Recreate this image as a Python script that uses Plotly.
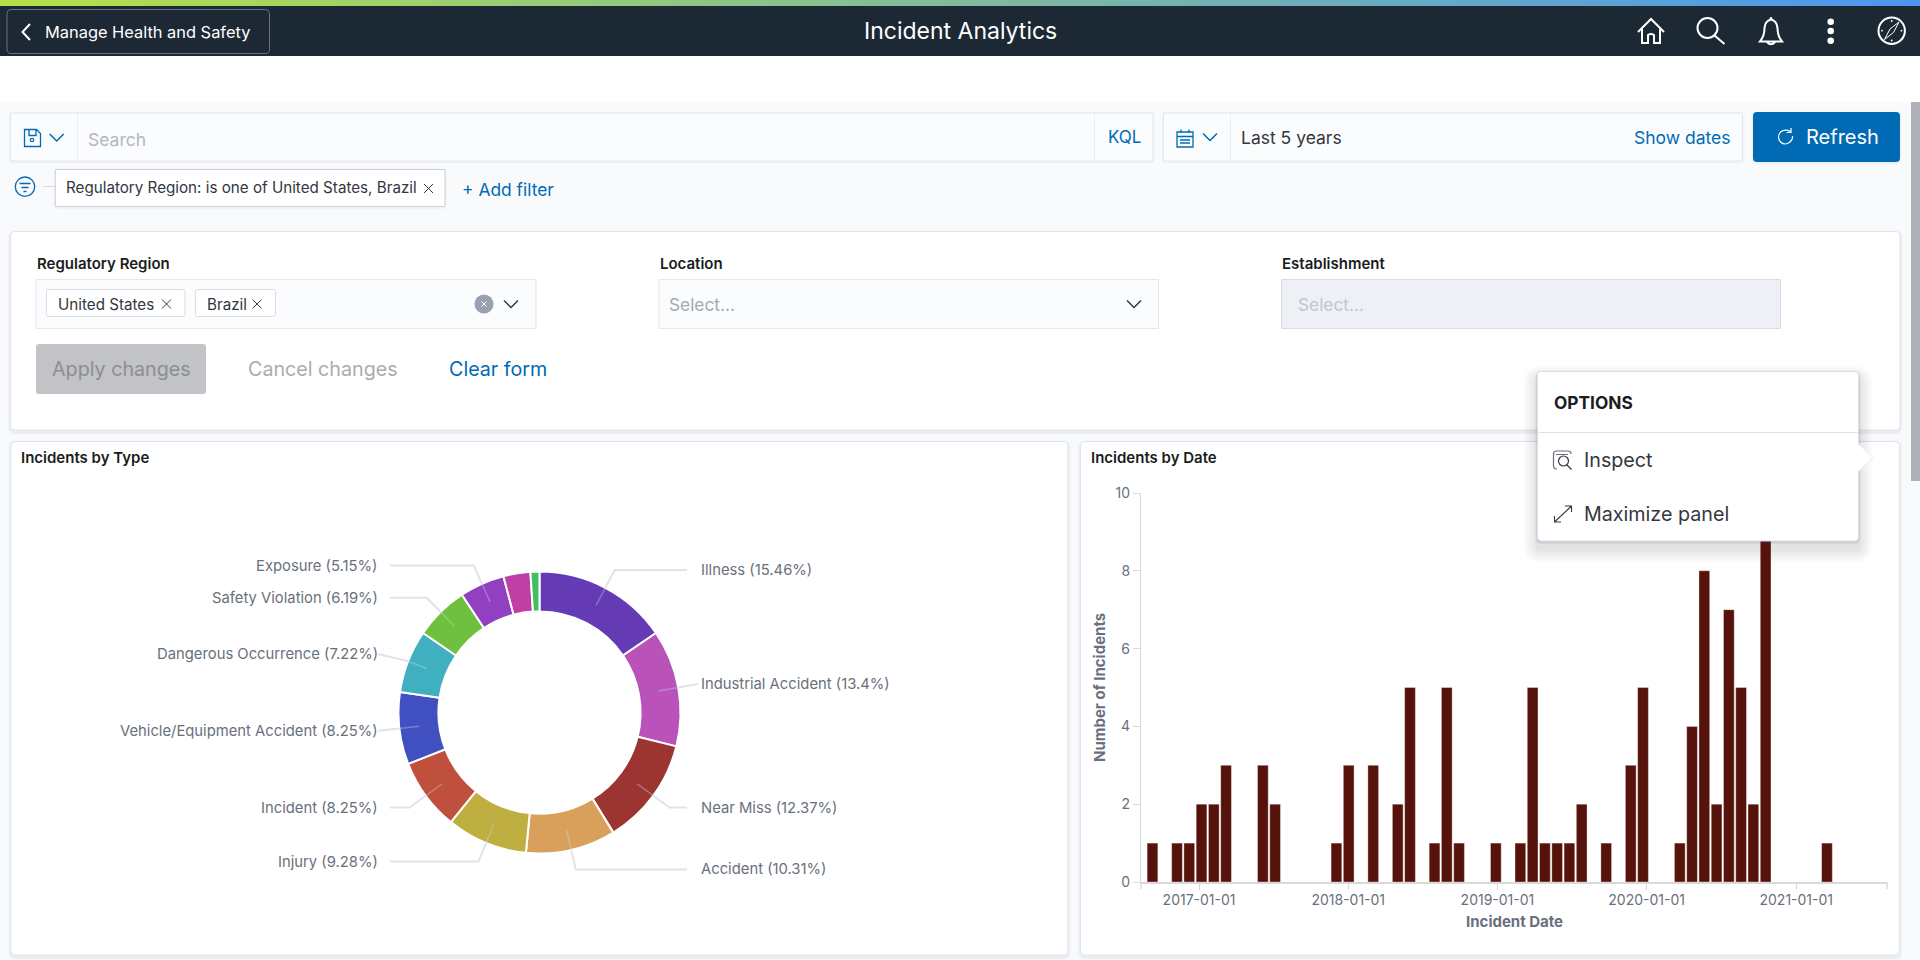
import re
import math
import pandas as pd
import plotly.graph_objects as go

W, H = 1920, 960
FONT = "Inter"
BLUE = "#006bb4"
INK = "#343741"
MUTED = "#69707d"
BORDER = "#dfe3ef"
AXIS = "#d9d9d9"

# incidents by type, clockwise from 12 o'clock (last two slices carry no label in the picture)
type_names = ["Illness", "Industrial Accident", "Near Miss", "Accident", "Injury", "Incident",
              "Vehicle/Equipment Accident", "Dangerous Occurrence", "Safety Violation", "Exposure",
              "Unlabelled 1", "Unlabelled 2"]
type_share = [15.46, 13.4, 12.37, 10.31, 9.28, 8.25, 8.25, 7.22, 6.19, 5.15, 3.09, 1.03]
type_colors = ["#643bb5", "#b953ba", "#9c3432", "#d9a05c", "#bfae40", "#bf503e",
               "#4050c0", "#40afc0", "#70c040", "#9040c0", "#c03fa5", "#40c060"]

# incidents by date: 30 day buckets, numbered from the one starting 2016-12-25
bucket_no = [-4, -2, -1, 0, 1, 2, 5, 6,
             11, 12, 14, 16, 17, 19, 20, 21,
             24, 26, 27, 28, 29, 30, 31, 33,
             35, 36, 39, 40, 41, 42, 43, 44,
             45, 46, 51]
counts = [1, 1, 1, 2, 2, 3, 3, 2,
          1, 3, 3, 2, 5, 1, 5, 1,
          1, 1, 5, 1, 1, 1, 2, 1,
          3, 5, 1, 4, 8, 2, 7, 5,
          2, 10, 1]
date_ticks = ["2017-01-01", "2018-01-01", "2019-01-01", "2020-01-01", "2021-01-01"]
count_ticks = [0, 2, 4, 6, 8, 10]

shapes, annotations = [], []


def X(px):
    return px / W


def Y(py):
    return 1 - py / H


def to_paper(d):
    # path written in page pixels -> paper coordinates
    seen = [0]

    def conv(m):
        v = float(m.group())
        out = X(v) if seen[0] % 2 == 0 else Y(v)
        seen[0] += 1
        return f"{out:.5f}"
    return re.sub(r"-?\d+\.?\d*", conv, d)


def path(d, color=None, width=1.0, fill=None, layer="above", opacity=1):
    shapes.append(dict(type="path", xref="paper", yref="paper", path=to_paper(d), layer=layer, opacity=opacity,
                       fillcolor=fill or "rgba(0,0,0,0)",
                       line=dict(color=color or "rgba(0,0,0,0)", width=width if color else 0)))


def box(x0, y0, x1, y1, fill, color=None, width=1.0, r=0, layer="below", opacity=1):
    d = (f"M{x0 + r} {y0} L{x1 - r} {y0} Q{x1} {y0} {x1} {y0 + r} L{x1} {y1 - r} Q{x1} {y1} {x1 - r} {y1} "
         f"L{x0 + r} {y1} Q{x0} {y1} {x0} {y1 - r} L{x0} {y0 + r} Q{x0} {y0} {x0 + r} {y0} Z")
    path(d, color, width, fill, layer, opacity)


def circle(cx, cy, r, fill=None, color=None, width=1.0, layer="above"):
    shapes.append(dict(type="circle", xref="paper", yref="paper", layer=layer,
                       x0=X(cx - r), x1=X(cx + r), y0=Y(cy + r), y1=Y(cy - r),
                       fillcolor=fill or "rgba(0,0,0,0)",
                       line=dict(color=color or "rgba(0,0,0,0)", width=width if color else 0)))


def label(x, y, s, size=16, color=INK, anchor="left", weight=400, angle=0):
    annotations.append(dict(xref="paper", yref="paper", x=X(x), y=Y(y), text=s, showarrow=False,
                            xanchor=anchor, yanchor="middle", borderpad=0, textangle=angle,
                            font=dict(family=FONT, size=size, color=color, weight=weight)))


def chevron(x, y, color, s=7.0, width=1.5):
    path(f"M{x - s} {y - s / 2} L{x} {y + s / 2} L{x + s} {y - s / 2}", color, width)


def cross(x, y, color=INK, s=4.5):
    path(f"M{x - s} {y - s} L{x + s} {y + s} M{x + s} {y - s} L{x - s} {y + s}", color, 1)


def shadow(x0, y0, x1, y1, spread=4, drop=2, alpha=0.025, r=4, layer="below"):
    for i in range(spread, 0, -1):
        box(x0 - i, y0 - i + drop, x1 + i, y1 + i + drop, "#3a4560", r=r + i, layer=layer, opacity=alpha)


# page background and header
box(0, 102, W, H, "#f9fafc")
for i in range(120):
    t = i / 119
    rgb = (round(181 - 105 * t), round(224 - 74 * t), round(72 + 168 * t))
    shapes.append(dict(type="rect", xref="paper", yref="paper", layer="below", x0=i / 120, x1=(i + 1.5) / 120,
                       y0=Y(6), y1=Y(0), fillcolor=f"rgb{rgb}", line=dict(width=0)))
box(0, 6, W, 56, "#1d2835")
box(7, 9.5, 269.5, 53.5, "#1d2835", "#6a7280", 1, r=4)
path("M30 24 L22.5 32 L30 40", "#ffffff", 2)
label(44, 32, "Manage Health and Safety", 16.4, "#ffffff")
label(960, 31, "Incident Analytics", 23, "#ffffff", "center")

# header icons
path("M1638 32 L1651 19 L1664 32 M1642 29 L1642 43 L1648 43 L1648 35 Q1651 33 1654 35 L1654 43 L1660 43 L1660 29",
     "#ffffff", 2)
circle(1707.5, 28, 10, color="#ffffff", width=2)
path("M1714.5 35.5 L1724.5 44", "#ffffff", 2)
path("M1771 19.5 Q1765 21 1764.5 28 Q1764.5 36 1760 41.5 L1782 41.5 Q1777.5 36 1777.5 28 Q1777 21 1771 19.5 Z "
     "M1767 42 Q1771 46.5 1775 42", "#ffffff", 2)
circle(1771, 18.5, 1.5, fill="#ffffff")
for cy in [21.7, 31, 40.7]:
    circle(1830.7, cy, 3.3, fill="#ffffff")
circle(1891.7, 30.7, 13.2, color="#ffffff", width=2)
path("M1899 22 L1893.5 32.5 L1884.5 39.5 L1890 29 Z", "#ffffff", 1)
for mx, my in [(1891.7, 21), (1891.7, 40.5), (1882, 30.7), (1901.5, 30.7)]:
    circle(mx, my, 0.9, fill="#ffffff")

# query bar
shadow(10.5, 113, 1153, 161, 2, 1)
box(10.5, 113, 1153, 161, "#fbfcfd", "#e4e7ee")
path("M77.5 113 L77.5 161 M1094.5 113 L1094.5 161", "#e9ecf2", 1, layer="below")
path("M24.5 129.5 L36.5 129.5 L40.5 133.5 L40.5 146.5 L24.5 146.5 Z M29 129.5 L29 135.5 L36 135.5 L36 129.5", BLUE, 1.3)
circle(32, 140, 1.7, color=BLUE, width=1.2)
chevron(56.7, 137.5, BLUE)
label(87, 139.5, "Search", 17.5, "#b3b7be")
label(1107, 137, "KQL", 17, BLUE)

shadow(1163.5, 113, 1742.5, 161, 2, 1)
box(1163.5, 113, 1742.5, 161, "#fbfcfd", "#e4e7ee")
path("M1230.5 113 L1230.5 161", "#e9ecf2", 1, layer="below")
path("M1177 132 L1193 132 L1193 147 L1177 147 Z M1177 136.5 L1193 136.5 M1181 129.5 L1181 133 M1189 129.5 L1189 133",
     BLUE, 1.3)
path("M1180 140 L1190 140 M1180 143 L1190 143", BLUE, 1.5)
chevron(1210, 137, BLUE)
label(1240, 137, "Last 5 years", 17.5, INK)
label(1732, 137, "Show dates", 17.5, BLUE, "right")
shadow(1753, 112, 1900, 162, 2, 1)
box(1753, 112, 1900, 162, BLUE, r=4)
path("M1790.5 131.5 Q1785 128.5 1780.5 132 Q1776.5 137 1780.5 142 Q1785 146 1790 142 Q1793 139.5 1792.5 136 "
     "M1791 128 L1791 132.5 L1786.5 132.5", "#ffffff", 1.2)
label(1804.5, 137, "Refresh", 20, "#ffffff")

# filter pill row
circle(25, 186.7, 9.7, color=BLUE, width=1.3)
path("M19.5 183.5 L30.5 183.5 M21.5 187.5 L28.5 187.5 M23.5 191.5 L26.5 191.5", BLUE, 1.3)
path("M43 186.5 L55 186.5", "#d3dae6", 1)
shadow(55.3, 169.5, 445, 206.5, 2, 1)
box(55.3, 169.5, 445, 206.5, "#ffffff", "#ccd2dd")
label(64.5, 188, "Regulatory Region: is one of United States, Brazil", 15.2, INK)
cross(428.5, 188.5)
label(461, 189, "+ Add filter", 17.4, BLUE)

# controls panel
shadow(10.5, 231.5, 1900, 430, 3, 2)
box(10.5, 231.5, 1900, 430, "#ffffff", BORDER, r=5)
label(35.5, 263, "Regulatory Region", 15, "#1a1c21", weight=600)
label(658.5, 263, "Location", 15, "#1a1c21", weight=600)
label(1281, 263, "Establishment", 15, "#1a1c21", weight=600)
box(36, 279.5, 536, 328.5, "#fbfcfd", "#e4e7ee")
box(659, 279.5, 1158.5, 328.5, "#fbfcfd", "#e4e7ee")
box(1281.5, 279.5, 1780.5, 328.5, "#eef0f5", "#d9dde6")
box(46.5, 289.5, 185, 316.5, "#ffffff", "#d9dde6", r=2)
box(195.5, 289.5, 275.5, 316.5, "#ffffff", "#d9dde6", r=2)
label(56.5, 304, "United States", 15.2, INK)
cross(166.5, 304)
label(205.5, 304, "Brazil", 15.2, INK)
cross(257, 304)
circle(484, 304, 9.5, fill="#98a2b3")
cross(484, 304, "#ffffff", 2.5)
chevron(511, 304, INK)
label(668, 305, "Select...", 17.3, "#a4a8b0")
chevron(1134, 304, INK)
label(1296.5, 305, "Select...", 17.3, "#c2c6cd")
box(36, 344, 206, 394, "#c2c3c6", r=3)
label(121, 369, "Apply changes", 19.7, "#8d8e92", "center")
label(247, 369, "Cancel changes", 19.7, "#a9acb2")
label(448, 369, "Clear form", 19.7, BLUE)

# chart panels
shadow(11, 441.5, 1068, 955, 3, 2)
box(11, 441.5, 1068, 955, "#ffffff", BORDER, r=5)
shadow(1080.5, 441.5, 1899.5, 955, 3, 2)
box(1080.5, 441.5, 1899.5, 955, "#ffffff", BORDER, r=5)
label(20, 457, "Incidents by Type", 15, "#1a1c21", weight=600)
label(1089.5, 457, "Incidents by Date", 15, "#1a1c21", weight=600)

# donut labels and leader lines follow the slice mid angles
CX, CY, R = 539.5, 712.5, 141
cum = 0
for name, share in zip(type_names, type_share):
    mid = math.radians((cum + share / 2) * 3.6)
    cum += share
    if name.startswith("Unlabelled"):
        continue
    sn, cs = math.sin(mid), math.cos(mid)
    ex, ey = CX + 161 * sn, CY - 161 * cs
    right = sn > 0
    end = 687 if right else 390
    if (right and ex > end) or (not right and ex < end):
        ex = 698 if right else 378
        end = ex
    # the line is barely visible where it runs over the slice
    path(f"M{CX + 121 * sn:.1f} {CY - 121 * cs:.1f} L{CX + R * sn:.1f} {CY - R * cs:.1f}", "#d3dae6", 1.5, opacity=0.35)
    path(f"M{CX + R * sn:.1f} {CY - R * cs:.1f} L{ex:.1f} {ey:.1f} L{end} {ey:.1f}", "#e1e3e8", 2)
    label(700 if right else 378.5, ey, f"{name} ({share}%)", 14.8, MUTED, "left" if right else "right")

# axis titles, and the extra end ticks of the date axis
label(1099, 688, "Number of Incidents", 15, MUTED, "center", 700, -90)
label(1514, 921.5, "Incident Date", 15, MUTED, "center", 700)
path("M1141 882 L1141 889 M1887 882 L1887 889", AXIS, 1.3, layer="below")

# options popup over the bar chart
shadow(1537.5, 371.5, 1858.5, 541, 14, 8, 0.012, layer="above")
shadow(1537.5, 371.5, 1858.5, 541, 2, 1, 0.08, layer="above")
box(1537.5, 371.5, 1858.5, 541, "#ffffff", "#dde0ea", r=4, layer="above")
path("M1858 443.5 L1873 457.5 L1858 472 Z", "#eceef4", 1, "#ffffff")
path("M1858 444.5 L1858 471", "#ffffff", 2)
path("M1538 432.5 L1858 432.5", "#dde0ea", 1)
label(1553, 402.5, "OPTIONS", 17.3, "#1a1c21", weight=700)
path("M1557 469 Q1553.5 469 1553.5 466 L1553.5 454 Q1553.5 451 1556.5 451 L1568 451 Q1571 451 1571 454",
     MUTED, 1.2)
path("M1556 454.5 L1568 454.5", MUTED, 1)
circle(1563.5, 461, 5, color=INK, width=1.2)
path("M1567 465 L1571.5 469.5", INK, 1.2)
label(1583, 460, "Inspect", 19.7, INK)
path("M1554.5 522 L1571.5 506 M1565 506 L1571.5 506 L1571.5 512 M1554.5 516 L1554.5 522 L1561 522", INK, 1.1)
label(1583, 514, "Maximize panel", 19.7, INK)

# scrollbar
box(1911, 102, 1920, 481, "#afb0b8", layer="above")

fig = go.Figure()
fig.add_trace(go.Pie(labels=type_names, values=type_share, hole=0.717, sort=False, direction="clockwise",
                     rotation=0, textinfo="none", hoverinfo="skip", showlegend=False,
                     marker=dict(colors=type_colors, line=dict(color="#ffffff", width=2)),
                     domain=dict(x=[X(CX - R), X(CX + R)], y=[Y(CY + R), Y(CY - R)])))

# bar centres: bucket start plus half of the drawn width
bar_dates = [pd.Timestamp("2016-12-25") + pd.Timedelta(days=30 * k + 13.1) for k in bucket_no]
fig.add_trace(go.Bar(x=bar_dates, y=counts, width=26.2 * 24 * 3600 * 1000,
                     marker=dict(color="#56130c", line=dict(color="rgba(255,255,255,0.35)", width=1)),
                     hoverinfo="skip", showlegend=False))

fig.update_layout(
    template="none", width=W, height=H, margin=dict(l=0, r=0, t=0, b=0), paper_bgcolor="#ffffff",
    plot_bgcolor="rgba(0,0,0,0)", font=dict(family=FONT), hovermode=False, shapes=shapes, annotations=annotations,
    xaxis=dict(domain=[X(1141), X(1887)], type="date", range=["2016-08-12", "2021-08-11"], tickvals=date_ticks,
               ticktext=date_ticks, ticks="outside", ticklen=6, tickcolor=AXIS, tickwidth=1.3, showgrid=False,
               zeroline=False, showline=True, linecolor=AXIS, linewidth=2, automargin=False, ticklabelstandoff=-2,
               tickfont=dict(family=FONT, size=14, color=MUTED)),
    yaxis=dict(domain=[Y(882), Y(493)], range=[0, 10], tickvals=count_ticks, ticks="outside", ticklen=7,
               tickcolor=AXIS, tickwidth=1.3, showgrid=False, zeroline=False, showline=True,
               linecolor=AXIS, linewidth=1.3, automargin=False, tickfont=dict(family=FONT, size=14, color=MUTED)),
)

fig.write_html("out.html", config={"displayModeBar": False},
               post_script="document.body.style.margin='0';document.body.style.overflow='hidden';")
